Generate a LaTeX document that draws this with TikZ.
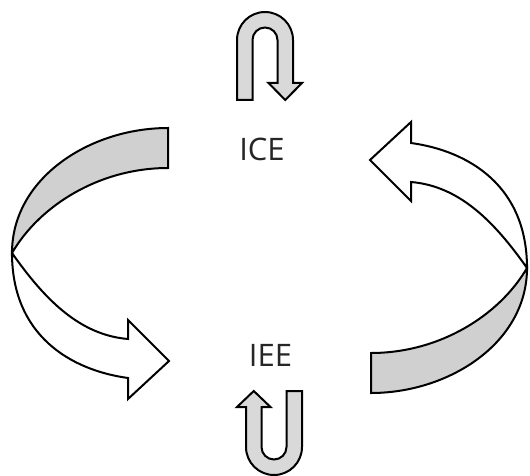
\documentclass[tikz,border=0pt]{standalone}
\usepackage{fontspec}
\setmainfont{Open Sans}
\definecolor{bandgrey}{HTML}{D0D0D0}
\definecolor{ugrey}{HTML}{D9D9D9}
\definecolor{labeltext}{HTML}{262626}
% one twisted ribbon arrow: grey back side on top, white front side ending in the head
\newcommand\drawribbon{%
  \path[backside] (168,128) .. controls (90,128) and (12,178) .. (12,253)
     .. controls (40,205) and (100,168) .. (168,168) -- cycle;
  \path[frontside] (12,253) .. controls (12,335) and (70,370) .. (128,378)
     -- (128,399) -- (169,361) -- (128,320) -- (128,339)
     .. controls (80,335) and (45,300) .. (12,253) -- cycle;
}
\begin{document}
\begin{tikzpicture}[x=1pt,y=-1pt,
  outline/.style={draw=black,line width=2pt,line join=miter},
  backside/.style={outline,fill=bandgrey},
  frontside/.style={outline,fill=white},
  uturn/.style={outline,fill=ugrey},
  stagelabel/.style={font=\fontsize{31}{37}\selectfont,text=labeltext,inner sep=0pt}]
\useasboundingbox (0,0) rectangle (530,476);

% left ribbon (ICE -> IEE) and its half-turn copy on the right (IEE -> ICE)
\drawribbon
\begin{scope}[rotate around={180:(269.5,260.5)}]
  \drawribbon
\end{scope}

% U-turn above ICE
\path[uturn] (237,100) -- (237,40) arc[start angle=180,end angle=360,radius=28]
  -- (293,83) -- (302,83) -- (285.25,100) -- (268.5,83) -- (277.5,83)
  -- (277.5,40) arc[start angle=0,end angle=-180,radius=12.5]
  -- (252.5,100) -- cycle;

% U-turn below IEE
\path[uturn] (302,391) -- (302,447) arc[start angle=0,end angle=180,radius=28]
  -- (246,407) -- (237,407) -- (253.75,391) -- (270.5,407) -- (261.5,407)
  -- (261.5,447) arc[start angle=180,end angle=0,radius=12.5]
  -- (286.5,391) -- cycle;

\node[stagelabel] (ice) at (262,149) {ICE};
\node[stagelabel] (iee) at (270.5,355.5) {IEE};
\end{tikzpicture}
\end{document}
